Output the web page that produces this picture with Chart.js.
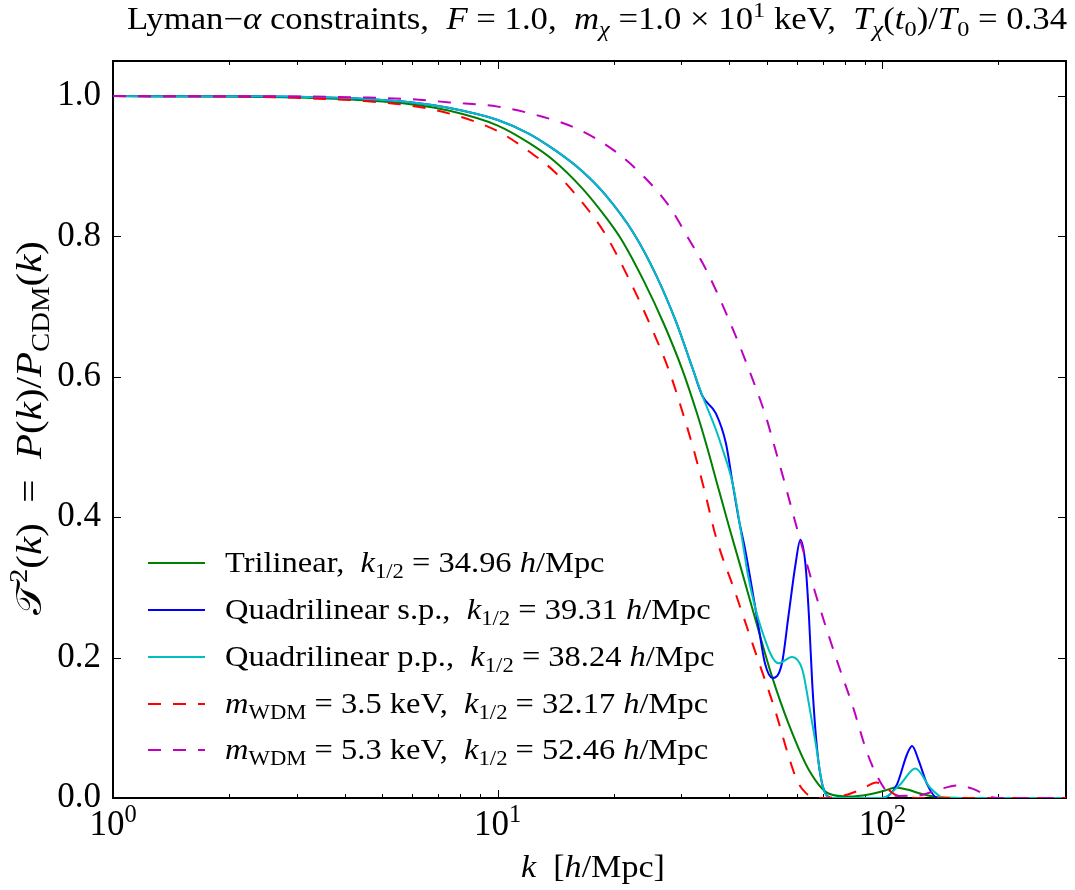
<!DOCTYPE html>
<html>
<head>
<meta charset="utf-8">
<script src="https://cdn.jsdelivr.net/npm/chart.js@4/dist/chart.umd.min.js"></script>
<style>
  html, body { margin: 0; padding: 0; background: #ffffff; }
  canvas { display: block; }
</style>
</head>
<body>
<canvas id="plot" width="1075" height="890"></canvas>
<script>
// Transfer function T^2(k) = P(k)/P_CDM(k) for the fitted models and two WDM references.

// Trilinear fit
const kTri = [1, 2, 3, 4.5, 6, 7.5, 10, 12, 14, 16.5, 19, 21, 24, 27, 30.2, 33, 35, 37.3, 40, 43, 47, 51.5, 57, 64.4, 72.7, 82, 92, 102, 108, 116, 126, 140, 170, 300];
const tTri = [1.0, 0.9995, 0.998, 0.994, 0.988, 0.979, 0.958, 0.934, 0.908, 0.870, 0.829, 0.795, 0.736, 0.676, 0.610, 0.547, 0.500, 0.445, 0.385, 0.325, 0.250, 0.175, 0.106, 0.040, 0.006, 0.002, 0.005, 0.011, 0.015, 0.012, 0.006, 0.001, 0.0, 0.0];

// Quadrilinear fit, s.p.
const kQsp = [1, 2, 3, 4.5, 6, 7.5, 10, 12, 14, 16.5, 19, 22.6, 25.8, 29.1, 32.1, 34.1, 36.9, 39.2, 40.8, 42.4, 43.9, 47.6, 49.5, 51.8, 54.8, 57.0, 59.4, 61.2, 63.1, 64.4, 65.7, 67.7, 69.8, 74.2, 100, 109, 115.8, 119.4, 124.3, 130.8, 139, 300];
const tQsp = [1.0, 0.9997, 0.999, 0.996, 0.991, 0.983, 0.966, 0.947, 0.924, 0.894, 0.860, 0.804, 0.745, 0.678, 0.612, 0.572, 0.548, 0.505, 0.448, 0.395, 0.356, 0.245, 0.192, 0.171, 0.192, 0.260, 0.332, 0.368, 0.332, 0.260, 0.163, 0.067, 0.019, 0.0, 0.0, 0.019, 0.062, 0.074, 0.053, 0.019, 0.0, 0.0];

// Quadrilinear fit, p.p.
const kQpp = [1, 2, 3, 4.5, 6, 7.5, 10, 12, 14, 16.5, 19, 22.6, 25.8, 29.1, 32.1, 34.1, 36.9, 38.24, 40.8, 43.3, 44.7, 48.5, 53.7, 58.2, 61.9, 64.4, 67.1, 69.8, 73, 100, 111, 121.8, 133.4, 145, 300];
const tQpp = [1.0, 0.9997, 0.999, 0.996, 0.991, 0.983, 0.966, 0.947, 0.924, 0.894, 0.860, 0.804, 0.745, 0.678, 0.612, 0.572, 0.525, 0.500, 0.448, 0.365, 0.318, 0.240, 0.192, 0.201, 0.183, 0.134, 0.077, 0.019, 0.0, 0.0, 0.019, 0.042, 0.014, 0.0, 0.0];

// Thermal WDM, 3.5 keV
const kW35 = [1, 2, 3, 4.5, 6, 7.5, 10, 12, 14, 16.5, 19, 22, 25, 28, 31, 32.17, 34.4, 37, 41.3, 46.6, 52.6, 57, 60, 63, 67, 72, 80, 88, 96.5, 101, 107, 115, 130, 300];
const tW35 = [1.0, 0.9994, 0.9975, 0.993, 0.986, 0.975, 0.950, 0.922, 0.893, 0.850, 0.804, 0.738, 0.672, 0.606, 0.530, 0.500, 0.440, 0.370, 0.295, 0.210, 0.125, 0.060, 0.025, 0.008, 0.0, 0.0, 0.004, 0.012, 0.022, 0.017, 0.006, 0.001, 0.0, 0.0];

// Thermal WDM, 5.3 keV
const kW53 = [1, 3, 4.5, 6, 7.5, 10, 13, 16, 20, 24, 28, 31.1, 35, 40, 45, 49.8, 52.46, 55, 60.6, 67.1, 75.7, 83.8, 90.9, 96.5, 102.5, 110, 125, 140, 157, 172, 188, 200, 300];
const tW53 = [1.0, 0.9995, 0.998, 0.9955, 0.991, 0.985, 0.971, 0.954, 0.923, 0.885, 0.842, 0.800, 0.750, 0.680, 0.610, 0.543, 0.500, 0.460, 0.375, 0.290, 0.200, 0.130, 0.067, 0.033, 0.010, 0.003, 0.004, 0.012, 0.018, 0.013, 0.003, 0.0, 0.0];

// Legend text pieces
const seriesNames = ['Trilinear', 'Quadrilinear s.p.', 'Quadrilinear p.p.'];
const wdmMasses = [3.5, 5.3];
const kHalf = [34.96, 39.31, 38.24, 32.17, 52.46];

// Axis ticks
const xMajorTicks = [1, 10, 100];
const xTickExponents = ['0', '1', '2'];
const yTicks = [0.0, 0.2, 0.4, 0.6, 0.8, 1.0];

const FONT = "'Liberation Serif', 'DejaVu Serif', serif";
const DASH = [13, 12];

function pts(ks, ts) { return ks.map((k, i) => ({ x: k, y: ts[i] })); }

// Rich text: segments are [text, style]; style is '', 'i', 'sub', 'isub', 'sup'
function segFont(style, size) {
  const italic = style.indexOf('i') === 0;
  const sub = style.indexOf('sub') >= 0;
  const sup = style.indexOf('sup') >= 0;
  const s = (sub || sup) ? size * 0.7 : size;
  return {
    font: (italic ? 'italic ' : '') + s.toFixed(1) + 'px ' + FONT,
    dy: sub ? size * 0.22 : (sup ? -size * 0.38 : 0)
  };
}
function measureRich(ctx, segs, size) {
  let w = 0;
  for (const [t, st] of segs) { ctx.font = segFont(st, size).font; w += ctx.measureText(t).width; }
  return w;
}
// hs: horizontal stretch of the glyphs
function drawRich(ctx, segs, x, y, size, align, hs) {
  hs = hs || 1;
  const w = measureRich(ctx, segs, size) * hs;
  const x0 = align === 'center' ? x - w / 2 : (align === 'right' ? x - w : x);
  ctx.save();
  ctx.translate(x0, y);
  ctx.scale(hs, 1);
  ctx.textAlign = 'left';
  ctx.textBaseline = 'alphabetic';
  let cx = 0;
  for (const [t, st] of segs) {
    const f = segFont(st, size);
    ctx.font = f.font;
    ctx.fillText(t, cx, f.dy);
    cx += ctx.measureText(t).width;
  }
  ctx.restore();
}

function legendSegments(i) {
  const tail = [['k', 'i'], ['1/2', 'sub'], [' = ' + kHalf[i].toFixed(2) + ' ', ''], ['h', 'i'], ['/Mpc', '']];
  if (i < seriesNames.length) return [[seriesNames[i] + ',  ', '']].concat(tail);
  const m = wdmMasses[i - seriesNames.length];
  return [['m', 'i'], ['WDM', 'sub'], [' = ' + m.toFixed(1) + ' keV,  ', '']].concat(tail);
}

const titleSegs = [
  ['Lyman\u2212', ''], ['\u03b1', 'i'], [' constraints,  ', ''], ['F', 'i'], [' = 1.0,  ', ''],
  ['m', 'i'], ['\u03c7', 'isub'], [' =1.0 \u00d7 10', ''], ['1', 'sup'], [' keV,  ', ''],
  ['T', 'i'], ['\u03c7', 'isub'], ['(', ''], ['t', 'i'], ['0', 'sub'], [')/', ''], ['T', 'i'], ['0', 'sub'], [' = 0.34', '']
];
const yTitleSegs = [
  ['\ud835\udcaf', ''], ['2', 'sup'], ['(', ''], ['k', 'i'], [')  =  ', ''], ['P', 'i'], ['(', ''], ['k', 'i'], [')/', ''],
  ['P', 'i'], ['CDM', 'sub'], ['(', ''], ['k', 'i'], [')', '']
];
const xTitleSegs = [['k', 'i'], ['  [', ''], ['h', 'i'], ['/Mpc]', '']];

const seriesData = [
  { k: kTri, t: tTri, color: '#008000', dash: [], order: 4 },
  { k: kQsp, t: tQsp, color: '#0000ff', dash: [], order: 3 },
  { k: kQpp, t: tQpp, color: '#00bfbf', dash: [], order: 2 },
  { k: kW35, t: tW35, color: '#ff0000', dash: DASH, order: 1 },
  { k: kW53, t: tW53, color: '#bf00bf', dash: DASH, order: 0 }
];
const plainLabels = [
  'Trilinear', 'Quadrilinear s.p.', 'Quadrilinear p.p.', 'm_WDM = 3.5 keV', 'm_WDM = 5.3 keV'
];

// White page background, inward ticks and the axes frame (under the curves)
const framePlugin = {
  id: 'frame',
  beforeDraw(chart) {
    const c = chart.ctx;
    c.save(); c.fillStyle = '#ffffff'; c.fillRect(0, 0, chart.width, chart.height); c.restore();
  },
  beforeDatasetsDraw(chart) {
    const c = chart.ctx;
    const a = chart.chartArea;
    const xs = chart.scales.x, ys = chart.scales.y;
    c.save();
    c.strokeStyle = '#000000';
    c.lineWidth = 1;
    c.beginPath();
    for (const d of xMajorTicks) {
      for (let m = 1; m <= 9; m++) {
        const v = d * m;
        if (v > xs.max) continue;
        const px = Math.round(xs.getPixelForValue(v)) + 0.5;
        const len = m === 1 ? 8 : 4;
        c.moveTo(px, a.bottom); c.lineTo(px, a.bottom - len);
        c.moveTo(px, a.top); c.lineTo(px, a.top + len);
      }
    }
    for (const v of yTicks) {
      const py = Math.round(ys.getPixelForValue(v)) + 0.5;
      c.moveTo(a.left, py); c.lineTo(a.left + 8, py);
      c.moveTo(a.right, py); c.lineTo(a.right - 8, py);
    }
    c.stroke();
    c.lineWidth = 2;
    c.strokeRect(a.left, a.top, a.right - a.left, a.bottom - a.top);
    c.restore();
  }
};

// x tick labels, titles and legend
const textPlugin = {
  id: 'texts',
  afterDatasetsDraw(chart) {
    const c = chart.ctx;
    const a = chart.chartArea;
    const xs = chart.scales.x;
    c.save();
    c.fillStyle = '#000000';

    xMajorTicks.forEach((v, i) => {
      const px = xs.getPixelForValue(v);
      drawRich(c, [['10', ''], [xTickExponents[i], 'sup']], px, a.bottom + 37, 35, 'center');
    });

    drawRich(c, titleSegs, 597, 29, 31, 'center', 1.12);
    drawRich(c, xTitleSegs, 593, 877, 31, 'center', 1.1);

    c.save();
    c.translate(41, 428);
    c.rotate(-Math.PI / 2);
    drawRich(c, yTitleSegs, 0, 0, 36, 'center', 1.14);
    c.restore();

    const rowY = [563, 610, 657, 704, 750];
    chart.data.datasets.forEach((ds, i) => {
      const y = rowY[i];
      c.save();
      c.strokeStyle = ds.borderColor;
      c.lineWidth = 2;
      c.setLineDash(ds.borderDash || []);
      c.beginPath(); c.moveTo(148, y); c.lineTo(205, y); c.stroke();
      c.restore();
      drawRich(c, legendSegments(i), 225, y + 9, 29, 'left', 1.12);
    });
    c.restore();
  }
};

new Chart(document.getElementById('plot'), {
  type: 'line',
  data: {
    datasets: seriesData.map((s, i) => ({
      label: plainLabels[i],
      data: pts(s.k, s.t),
      borderColor: s.color,
      backgroundColor: s.color,
      borderWidth: 2,
      borderDash: s.dash,
      pointRadius: 0,
      fill: false,
      cubicInterpolationMode: 'monotone',
      order: s.order
    }))
  },
  options: {
    responsive: false,
    animation: false,
    devicePixelRatio: 1,
    layout: { padding: { top: 61, right: 9, left: 0, bottom: 0 } },
    scales: {
      x: {
        type: 'logarithmic',
        min: 1,
        max: 300,
        grid: { display: false, drawTicks: false },
        border: { display: false },
        ticks: { display: false },
        afterBuildTicks(scale) { scale.ticks = xMajorTicks.map(v => ({ value: v })); },
        afterFit(scale) { scale.height = 92; }
      },
      y: {
        type: 'linear',
        min: 0,
        max: 1.05,
        grid: { display: false, drawTicks: false },
        border: { display: false },
        ticks: {
          color: '#000000',
          font: { family: FONT, size: 35 },
          padding: 12,
          callback: v => Number(v).toFixed(1)
        },
        afterBuildTicks(scale) { scale.ticks = yTicks.map(v => ({ value: v })); },
        afterFit(scale) { scale.width = 113; }
      }
    },
    plugins: {
      legend: { display: false },
      tooltip: { enabled: false },
      title: { display: false }
    }
  },
  plugins: [framePlugin, textPlugin]
});
</script>
</body>
</html>
